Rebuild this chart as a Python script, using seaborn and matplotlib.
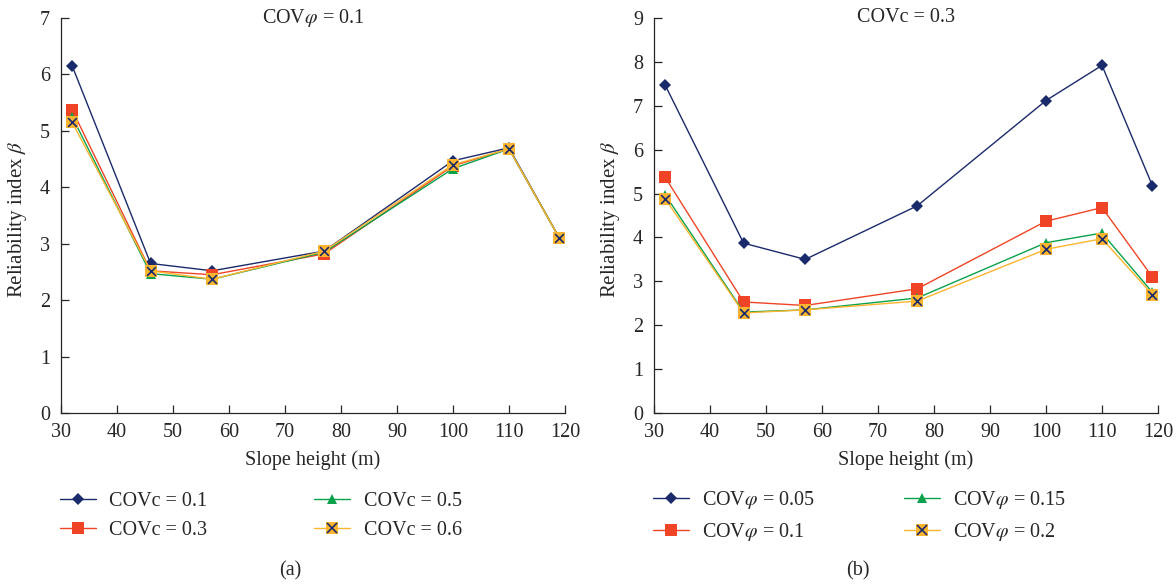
import numpy as np
import pandas as pd
import seaborn as sns
import matplotlib.pyplot as plt
from matplotlib.legend_handler import HandlerTuple
from matplotlib.lines import Line2D

# slope heights (m)
heights = [32, 46, 57, 77, 100, 110, 119]

# (a) COVphi = 0.1, varying COVc
labels_a = ["COVc = 0.1", "COVc = 0.3", "COVc = 0.5", "COVc = 0.6"]
beta_a_c01 = [6.15, 2.65, 2.52, 2.87, 4.47, 4.70, 3.10]
beta_a_c03 = [5.37, 2.52, 2.45, 2.82, 4.38, 4.68, 3.10]
beta_a_c05 = [5.25, 2.47, 2.37, 2.85, 4.33, 4.68, 3.10]
beta_a_c06 = [5.15, 2.52, 2.37, 2.87, 4.40, 4.68, 3.10]

# (b) COVc = 0.3, varying COVphi
labels_b = [r"COV$\varphi$ = 0.05", r"COV$\varphi$ = 0.1",
            r"COV$\varphi$ = 0.15", r"COV$\varphi$ = 0.2"]
beta_b_p005 = [7.47, 3.87, 3.50, 4.72, 7.12, 7.92, 5.18]
beta_b_p01 = [5.37, 2.53, 2.45, 2.83, 4.37, 4.68, 3.10]
beta_b_p015 = [4.97, 2.30, 2.35, 2.62, 3.88, 4.10, 2.75]
beta_b_p02 = [4.88, 2.28, 2.35, 2.55, 3.73, 3.97, 2.70]

colors = ["#1b2a6b", "#ef4526", "#0aa14b", "#fbb52f"]
markers = ["D", "s", "^", "s"]
msizes = [6.5, 8, 7, 8.5]

sns.set_style("ticks")
plt.rcParams["font.family"] = ["Liberation Serif", "DejaVu Serif"]
plt.rcParams["mathtext.fontset"] = "stix"

W, H = 1176, 586
fig = plt.figure(figsize=(W / 100, H / 100), dpi=100)
ax_a = fig.add_axes([61 / W, 173 / H, 504 / W, 395 / H])
ax_b = fig.add_axes([654 / W, 173 / H, 504 / W, 395 / H])


def draw_panel(ax, series, labels, ymax, title, letter, leg_x, colsp, letter_x):
    handles = []
    for i, (vals, lab) in enumerate(zip(series, labels)):
        df = pd.DataFrame({"h": heights, "beta": vals})
        sns.lineplot(data=df, x="h", y="beta", ax=ax, color=colors[i],
                     lw=1.0, marker=markers[i], markersize=msizes[i],
                     markeredgewidth=0, zorder=2 + i)
        h = Line2D([], [], color=colors[i], lw=1.0, marker=markers[i],
                   markersize=msizes[i], markeredgewidth=0)
        if i == 3:
            ax.scatter(df["h"], df["beta"], marker="x", s=40,
                       color=colors[0], linewidths=1.2, zorder=7)
            hx = Line2D([], [], ls="none", marker="x", markersize=6.5,
                        color=colors[0], markeredgewidth=1.2)
            handles.append((h, hx))
        else:
            handles.append(h)
    ax.set_xlim(30, 120)
    ax.set_ylim(0, ymax)
    ax.set_xticks(range(30, 121, 10))
    ax.set_yticks(range(0, ymax + 1))
    ax.tick_params(direction="in", labelsize=14.5, length=6, width=0.9)
    ax.tick_params(axis="x", pad=7)
    ax.tick_params(axis="y", pad=8)
    sns.despine(ax=ax)
    for s in ["left", "bottom"]:
        ax.spines[s].set_linewidth(0.9)
    ax.set_xlabel("Slope height (m)", fontsize=14.5)
    ax.xaxis.set_label_coords(0.5, -0.094)
    ax.set_ylabel(r"Reliability index $\beta$", fontsize=15)
    ax.yaxis.set_label_coords(-0.063, 0.49)
    ax.text(0.5, 1.0, title, transform=ax.transAxes, ha="center",
            va="center", fontsize=14.5)
    fig.legend(handles, labels, ncol=2, loc="center left",
               bbox_to_anchor=(leg_x / W, 1 - 516 / H),
               frameon=False, fontsize=14.5, handlelength=1.8,
               handletextpad=0.65, columnspacing=colsp, labelspacing=0.48,
               borderpad=0, borderaxespad=0,
               handler_map={tuple: HandlerTuple(ndivide=1)})
    fig.text(letter_x / W, 1 - 571 / H, letter, ha="center", va="center",
             fontsize=14.5)


draw_panel(ax_a, [beta_a_c01, beta_a_c03, beta_a_c05, beta_a_c06], labels_a,
           7, r"COV$\varphi$ = 0.1", "(a)", 60, 5.3, 290)
draw_panel(ax_b, [beta_b_p005, beta_b_p01, beta_b_p015, beta_b_p02], labels_b,
           9, "COVc = 0.3", "(b)", 653, 4.4, 858)

fig.savefig("out.png", dpi=100)
